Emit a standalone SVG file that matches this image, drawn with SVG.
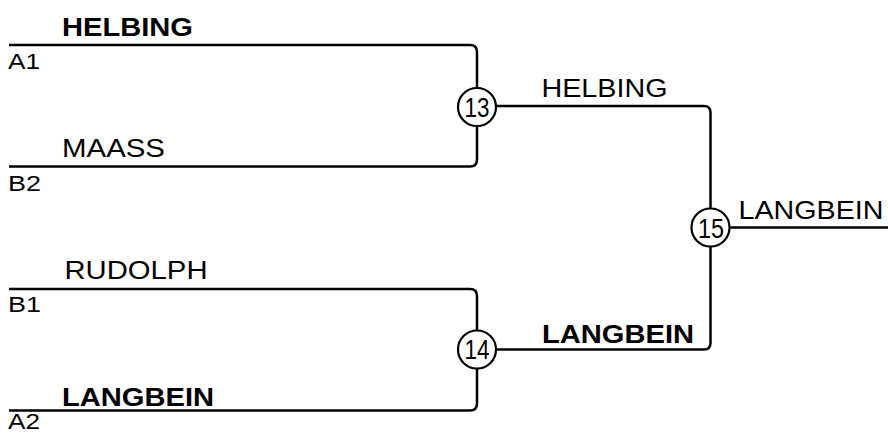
<svg xmlns="http://www.w3.org/2000/svg" width="888" height="433" viewBox="0 0 888 433">
<style>
.ln{fill:none;stroke:#000;stroke-width:2.5;stroke-linecap:butt}
.c{fill:#fff;stroke:#000;stroke-width:2.2}
text{font-family:"Liberation Sans",Arial,sans-serif;fill:#000}
.nm{font-size:26.5px}
.b{font-weight:bold}
.sd{font-size:22px}
.num{font-size:27px;text-anchor:middle}
</style>
<rect width="888" height="433" fill="#fff"/>
<g id="connectors">
<path class="ln" d="M9,45 H470 Q477,45 477,52 V88"/>
<path class="ln" d="M9,166.5 H470 Q477,166.5 477,159.5 V126"/>
<path class="ln" d="M9,289 H470 Q477,289 477,296 V331"/>
<path class="ln" d="M9,410.5 H470 Q477,410.5 477,403.5 V369"/>
<path class="ln" d="M496,106 H704 Q710.5,106 710.5,112.5 V208.5"/>
<path class="ln" d="M496,349.5 H704 Q710.5,349.5 710.5,343 V246.5"/>
<path class="ln" d="M730,227.5 H888"/>
</g>
<g id="slot-a1">
<text class="nm b" x="62" y="36" textLength="131" lengthAdjust="spacingAndGlyphs">HELBING</text>
<text class="sd" x="8" y="68.5" textLength="32" lengthAdjust="spacingAndGlyphs">A1</text>
</g>
<g id="slot-b2">
<text class="nm" x="62" y="157" textLength="103" lengthAdjust="spacingAndGlyphs">MAASS</text>
<text class="sd" x="8" y="191" textLength="33" lengthAdjust="spacingAndGlyphs">B2</text>
</g>
<g id="slot-b1">
<text class="nm" x="64.5" y="279" textLength="143" lengthAdjust="spacingAndGlyphs">RUDOLPH</text>
<text class="sd" x="8" y="312" textLength="33" lengthAdjust="spacingAndGlyphs">B1</text>
</g>
<g id="slot-a2">
<text class="nm b" x="62" y="406" textLength="152" lengthAdjust="spacingAndGlyphs">LANGBEIN</text>
<text class="sd" x="8" y="429" textLength="32" lengthAdjust="spacingAndGlyphs">A2</text>
</g>
<g id="match-13">
<circle class="c" cx="477" cy="107" r="19"/>
<text class="num" x="477" y="116.8" textLength="25" lengthAdjust="spacingAndGlyphs">13</text>
<text class="nm" x="541.5" y="97" textLength="126" lengthAdjust="spacingAndGlyphs">HELBING</text>
</g>
<g id="match-14">
<circle class="c" cx="477" cy="349.5" r="19"/>
<text class="num" x="477" y="359.3" textLength="25" lengthAdjust="spacingAndGlyphs">14</text>
<text class="nm b" x="542" y="343" textLength="152" lengthAdjust="spacingAndGlyphs">LANGBEIN</text>
</g>
<g id="match-15">
<circle class="c" cx="710.5" cy="227.5" r="19"/>
<text class="num" x="711" y="237.5" textLength="26" lengthAdjust="spacingAndGlyphs">15</text>
<text class="nm" x="738.5" y="219" textLength="145" lengthAdjust="spacingAndGlyphs">LANGBEIN</text>
</g>
</svg>
